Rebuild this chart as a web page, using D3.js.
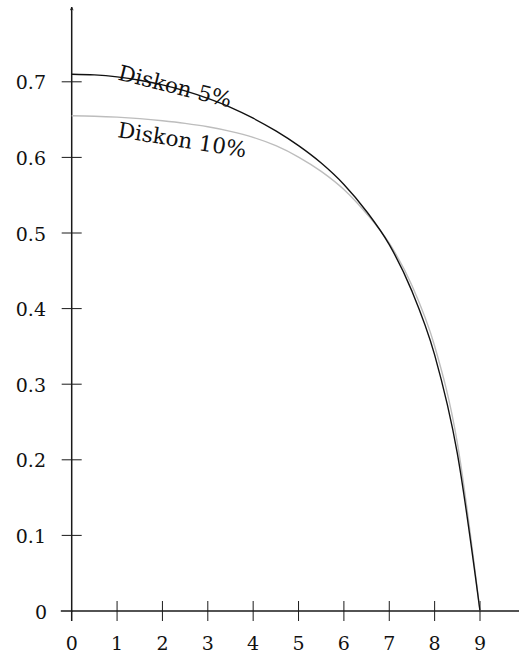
<!DOCTYPE html>
<html>
<head>
<meta charset="utf-8">
<script src="https://cdn.jsdelivr.net/npm/d3@7"></script>
<style>
  body { margin: 0; background: #fff; }
  text { font-family: "DejaVu Serif", serif; fill: #111; }
</style>
</head>
<body>
<svg id="chart" width="519" height="655"></svg>
<script>
// Time (years) at which each curve is sampled
const tValues   = [0, 0.5, 1, 1.5, 2, 2.5, 3, 3.5, 4, 4.5, 5, 5.5, 6, 6.5, 7, 7.5, 8, 8.5, 9];
// Curve values for the two discount rates
const discount5  = [0.710, 0.7091, 0.7065, 0.7021, 0.6959, 0.6879, 0.6780, 0.6662, 0.6518, 0.6350,
                    0.6155, 0.5925, 0.5642, 0.5285, 0.4846, 0.4231, 0.3388, 0.2085, 0];
const discount10 = [0.655, 0.6545, 0.6533, 0.6513, 0.6485, 0.6450, 0.6405, 0.6345, 0.6265, 0.6155,
                    0.6005, 0.5815, 0.5575, 0.5255, 0.4865, 0.4305, 0.3505, 0.2225, 0];
const seriesNames = ["Diskon 5%", "Diskon 10%"];

const xTicks = [0, 1, 2, 3, 4, 5, 6, 7, 8, 9];
const yTicks = [0, 0.1, 0.2, 0.3, 0.4, 0.5, 0.6, 0.7];
const yTickLabels = ["0", "0.1", "0.2", "0.3", "0.4", "0.5", "0.6", "0.7"];

const svg = d3.select("#chart");

const x = d3.scaleLinear().domain([0, 9]).range([71.7, 480]);
const y = d3.scaleLinear().domain([0, 0.7]).range([611, 81.8]);

const axisColor = "#1a1a1a";

// Arrow heads for the axes
const defs = svg.append("defs");
defs.append("marker")
  .attr("id", "arrow")
  .attr("viewBox", "0 0 10 10")
  .attr("refX", 9).attr("refY", 5)
  .attr("markerWidth", 4).attr("markerHeight", 4)
  .attr("markerUnits", "userSpaceOnUse")
  .attr("orient", "auto")
  .append("path")
  .attr("d", "M0,0 L10,5 L0,10 L3,5 Z")
  .attr("fill", axisColor);

// Axis lines
svg.append("line")
  .attr("x1", x(-0.24)).attr("x2", x(9.98))
  .attr("y1", y(0)).attr("y2", y(0))
  .attr("stroke", axisColor).attr("stroke-width", 1.5)
  .attr("marker-end", "url(#arrow)");
svg.append("line")
  .attr("x1", x(0)).attr("x2", x(0))
  .attr("y1", y(0) + 1).attr("y2", y(0.799))
  .attr("stroke", axisColor).attr("stroke-width", 1.5)
  .attr("marker-end", "url(#arrow)");

// X ticks crossing the axis
svg.append("g").selectAll("line")
  .data(xTicks.filter(d => d !== 0))
  .join("line")
  .attr("x1", d => x(d)).attr("x2", d => x(d))
  .attr("y1", y(0) - 10).attr("y2", y(0) + 10)
  .attr("stroke", axisColor).attr("stroke-width", 1);
svg.append("line")
  .attr("x1", x(0)).attr("x2", x(0))
  .attr("y1", y(0)).attr("y2", y(0) + 10)
  .attr("stroke", axisColor).attr("stroke-width", 1.5);

svg.append("g").selectAll("text")
  .data(xTicks)
  .join("text")
  .attr("x", d => x(d))
  .attr("y", 650)
  .attr("text-anchor", "middle")
  .attr("font-size", 19)
  .text(d => d);

// Y ticks crossing the axis
svg.append("g").selectAll("line")
  .data(yTicks.filter(d => d !== 0))
  .join("line")
  .attr("x1", x(0) - 10).attr("x2", x(0) + 10)
  .attr("y1", d => y(d)).attr("y2", d => y(d))
  .attr("stroke", axisColor).attr("stroke-width", 1);

svg.append("g").selectAll("text")
  .data(yTicks)
  .join("text")
  .attr("x", (d, i) => i === 0 ? 47 : 46)
  .attr("y", d => y(d) + 7.5)
  .attr("text-anchor", "end")
  .attr("font-size", 19)
  .text((d, i) => yTickLabels[i]);

// Curves
const line = d3.line()
  .x(d => x(d[0]))
  .y(d => y(d[1]))
  .curve(d3.curveMonotoneX);

const pts10 = tValues.map((t, i) => [t, discount10[i]]);
const pts5  = tValues.map((t, i) => [t, discount5[i]]);

svg.append("path")
  .attr("d", line(pts10))
  .attr("fill", "none")
  .attr("stroke", "#bdbdbd")
  .attr("stroke-width", 1.4);

svg.append("path")
  .attr("d", line(pts5))
  .attr("fill", "none")
  .attr("stroke", "#111")
  .attr("stroke-width", 1.4);

// Curve labels, laid along the curves
svg.append("text")
  .attr("transform", `translate(${x(1.0)},${y(discount5[2]) + 2.5}) rotate(14)`)
  .attr("font-size", 21.5)
  .text(seriesNames[0]);

svg.append("text")
  .attr("transform", `translate(${x(1.0)},${y(discount10[2]) + 20}) rotate(9)`)
  .attr("font-size", 21.5)
  .text(seriesNames[1]);
</script>
</body>
</html>
